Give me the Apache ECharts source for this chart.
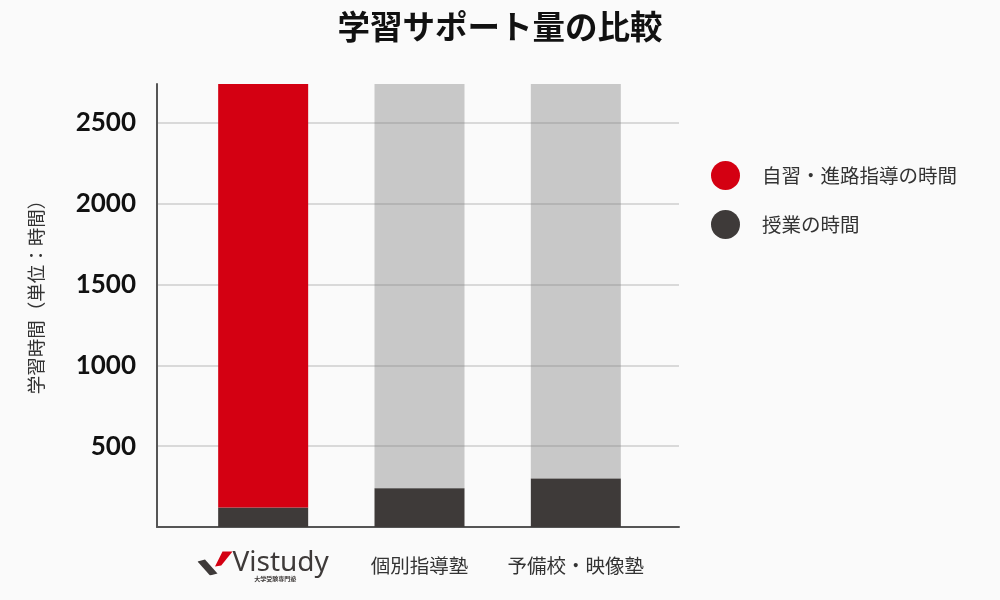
<!DOCTYPE html>
<html>
<head>
<meta charset="utf-8">
<script src="https://cdn.jsdelivr.net/npm/echarts@6/dist/echarts.min.js"></script>
<style>
html,body{margin:0;padding:0;background:#fafafa;}
#chart{width:1000px;height:600px;}
</style>
</head>
<body>
<div id="chart"></div>
<script>
// ---- data ----
const categories = ['Vistudy', '個別指導塾', '予備校・映像塾'];
const classHours = [120, 240, 300];          // 授業の時間
const selfStudyHours = [2620, 2500, 2440];   // 自習・進路指導の時間 (clipped at top)
const yTicks = [500, 1000, 1500, 2000, 2500];
const seriesNames = ['自習・進路指導の時間', '授業の時間'];
const titleText = '学習サポート量の比較';
const yAxisName = '学習時間（単位：時間）';
const logoSub = '大学受験専門塾';

const RED = '#d40012';
const DARK = '#3e3a39';
const GRAYBAR = 'rgba(128,128,128,0.41)';

const markSvg = "<svg xmlns='http://www.w3.org/2000/svg' width='28' height='25' viewBox='0 0 28 25'>" +
  "<polygon points='0,11 6,9 16,23 10,25' fill='#3e3a39'/>" +
  "<polygon points='20,1 28,1 19,15 14,16' fill='#d40012'/></svg>";
const markUri = 'data:image/svg+xml;charset=utf-8,' + encodeURIComponent(markSvg);

const chart = echarts.init(document.getElementById('chart'));
const yMax = 2740;

chart.setOption({
  backgroundColor: '#fafafa',
  animation: false,
  title: {
    text: titleText,
    left: 'center',
    top: 5,
    textStyle: {
      fontFamily: 'Noto Sans CJK JP',
      fontWeight: 'bold',
      fontSize: 32.5,
      color: '#111'
    }
  },
  legend: {
    orient: 'vertical',
    left: 706,
    top: 156,
    icon: 'circle',
    itemWidth: 29,
    itemHeight: 29,
    itemGap: 20,
    data: seriesNames,
    textStyle: {
      fontFamily: 'Noto Sans CJK JP',
      fontSize: 19.5,
      color: '#333',
      padding: [0, 0, 0, 17]
    }
  },
  grid: [
    { left: 157, right: 321, top: 84, bottom: 73 },
    { left: 185, right: 346, top: 84, bottom: 73 }
  ],
  xAxis: [
    {
      gridIndex: 0,
      type: 'value',
      min: 0, max: 1,
      axisLine: { show: true, lineStyle: { color: '#555', width: 2 } },
      axisTick: { show: false },
      axisLabel: { show: false },
      splitLine: { show: false }
    },
    {
      gridIndex: 1,
      type: 'category',
      data: categories,
      axisLine: { show: false },
      axisTick: { show: false },
      axisLabel: {
        interval: 0,
        margin: 39,
        verticalAlign: 'middle',
        fontFamily: 'Noto Sans CJK JP',
        fontSize: 19.5,
        color: '#333',
        formatter: function (v, i) {
          if (i === 0) return '{mark|}{logo|' + v + '}\n{sub|' + logoSub + '}';
          return v;
        },
        rich: {
          mark: {
            width: 28, height: 25,
            backgroundColor: { image: markUri },
            padding: [0, 7, 0, 0]
          },
          logo: {
            fontFamily: 'Noto Sans',
            fontSize: 28,
            color: '#3e3a39',
            lineHeight: 24
          },
          sub: {
            fontFamily: 'Noto Sans CJK JP',
            fontWeight: 'bold',
            fontSize: 6,
            color: '#3e3a39',
            lineHeight: 6,
            padding: [0, 0, 0, 24]
          }
        }
      }
    }
  ],
  yAxis: [
    {
      gridIndex: 0,
      type: 'value',
      min: 0, max: yMax,
      interval: 500,
      name: yAxisName,
      nameLocation: 'middle',
      nameRotate: 90,
      nameGap: 112,
      nameTextStyle: {
        fontFamily: 'Noto Sans CJK JP',
        fontSize: 18.5,
        color: '#333',
        padding: [0, 0, 0, 26]
      },
      axisLine: { show: true, lineStyle: { color: '#555', width: 2 } },
      axisTick: { show: false },
      axisLabel: {
        margin: 21,
        showMinLabel: false,
        showMaxLabel: false,
        fontFamily: 'Lato',
        fontWeight: 'bold',
        fontSize: 26,
        color: '#111',
        formatter: function (v) { return yTicks.indexOf(v) >= 0 ? String(v) : ''; }
      },
      splitLine: {
        show: true,
        lineStyle: {
          width: 2,
          color: ['rgba(0,0,0,0)', '#d9d9d9', '#d9d9d9', '#d9d9d9', '#d9d9d9', '#d9d9d9', 'rgba(0,0,0,0)']
        }
      }
    },
    {
      gridIndex: 1,
      type: 'value',
      min: 0, max: yMax,
      interval: 500,
      show: false,
      splitLine: { show: false }
    }
  ],
  series: [
    {
      name: seriesNames[1],
      type: 'bar',
      stack: 'total',
      xAxisIndex: 1, yAxisIndex: 1,
      barWidth: 90,
      itemStyle: { color: DARK },
      data: classHours
    },
    {
      name: seriesNames[0],
      type: 'bar',
      stack: 'total',
      xAxisIndex: 1, yAxisIndex: 1,
      barWidth: 90,
      itemStyle: { color: RED },
      data: selfStudyHours.map(function (v, i) {
        return i === 0 ? v : { value: v, itemStyle: { color: GRAYBAR } };
      })
    }
  ]
});
</script>
</body>
</html>
